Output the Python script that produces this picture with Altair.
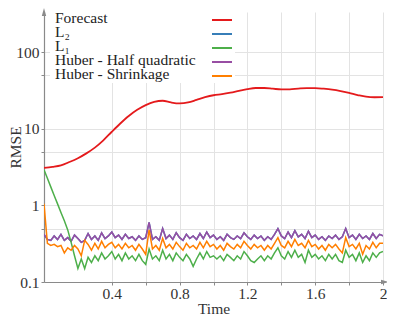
import altair as alt
import pandas as pd

# ---------------- data ----------------
TIME = [round(0.02 * i, 2) for i in range(101)]

FORECAST_TIME = [0.0, 0.05, 0.1, 0.15, 0.2, 0.25, 0.3, 0.35, 0.4, 0.45,
                 0.5, 0.55, 0.6, 0.65, 0.7, 0.75, 0.8, 0.85, 0.9, 0.95,
                 1.0, 1.05, 1.1, 1.15, 1.2, 1.25, 1.3, 1.35, 1.4, 1.45,
                 1.5, 1.55, 1.6, 1.65, 1.7, 1.75, 1.8, 1.85, 1.9, 1.95, 2.0]
FORECAST = [3.1, 3.2, 3.35, 3.7, 4.15, 4.8, 5.7, 7.1, 9.2, 11.8,
            14.8, 17.8, 20.5, 22.6, 23.4, 22.2, 21.6, 22.2, 24.0, 26.0,
            27.6, 28.5, 29.8, 31.5, 33.2, 34.3, 34.3, 33.6, 32.9, 33.0,
            33.7, 34.2, 34.2, 33.6, 32.7, 31.3, 29.6, 27.8, 26.4, 26.0, 26.1]

HUBER_HQ = [0.42, 0.36, 0.35, 0.40, 0.36, 0.42, 0.35, 0.38, 0.34, 0.41, 0.37,
            0.33, 0.35, 0.43, 0.36, 0.40, 0.35, 0.44, 0.37, 0.40, 0.45,
            0.38, 0.41, 0.36, 0.42, 0.37, 0.39, 0.35, 0.40, 0.36, 0.38,
            0.60, 0.36, 0.39, 0.35, 0.50, 0.37, 0.41, 0.36, 0.44, 0.38,
            0.35, 0.42, 0.37, 0.40, 0.36, 0.43, 0.37, 0.45, 0.38, 0.41,
            0.36, 0.39, 0.35, 0.42, 0.38, 0.36, 0.40, 0.37, 0.44, 0.39,
            0.36, 0.41, 0.37, 0.40, 0.35, 0.39, 0.36, 0.42, 0.50, 0.40,
            0.37, 0.45, 0.38, 0.47, 0.39, 0.42, 0.37, 0.46, 0.38, 0.41,
            0.36, 0.39, 0.35, 0.40, 0.37, 0.41, 0.36, 0.39, 0.50, 0.38,
            0.41, 0.36, 0.42, 0.37, 0.40, 0.36, 0.43, 0.37, 0.42, 0.40]

HUBER_SHRINK = [1.05, 0.32, 0.30, 0.31, 0.29, 0.30, 0.24, 0.28, 0.26, 0.30, 0.27,
                0.22, 0.35, 0.31, 0.26, 0.32, 0.27, 0.34, 0.28, 0.31, 0.33,
                0.28, 0.31, 0.27, 0.32, 0.28, 0.30, 0.26, 0.31, 0.27, 0.23,
                0.48, 0.27, 0.30, 0.26, 0.37, 0.28, 0.31, 0.27, 0.33, 0.29,
                0.26, 0.32, 0.28, 0.30, 0.27, 0.33, 0.28, 0.34, 0.29, 0.31,
                0.27, 0.30, 0.26, 0.32, 0.29, 0.27, 0.31, 0.28, 0.34, 0.30,
                0.27, 0.31, 0.28, 0.30, 0.26, 0.30, 0.27, 0.32, 0.38, 0.30,
                0.28, 0.34, 0.29, 0.36, 0.30, 0.32, 0.28, 0.35, 0.29, 0.31,
                0.27, 0.30, 0.26, 0.31, 0.28, 0.31, 0.27, 0.24, 0.38, 0.29,
                0.31, 0.27, 0.32, 0.23, 0.30, 0.27, 0.33, 0.28, 0.32, 0.32]

L1 = [2.93, 2.27, 1.75, 1.35, 1.05, 0.81, 0.63, 0.48, 0.33, 0.22, 0.15,
      0.20, 0.15, 0.21, 0.18, 0.22, 0.19, 0.24, 0.20, 0.22, 0.25,
      0.20, 0.23, 0.19, 0.24, 0.20, 0.22, 0.19, 0.23, 0.19, 0.17,
      0.27, 0.20, 0.22, 0.19, 0.26, 0.20, 0.23, 0.19, 0.24, 0.21,
      0.19, 0.23, 0.20, 0.16, 0.20, 0.24, 0.20, 0.25, 0.21, 0.22,
      0.20, 0.22, 0.19, 0.23, 0.21, 0.19, 0.22, 0.20, 0.25, 0.22,
      0.19, 0.18, 0.20, 0.22, 0.19, 0.22, 0.20, 0.24, 0.28, 0.22,
      0.20, 0.25, 0.21, 0.26, 0.21, 0.23, 0.18, 0.26, 0.21, 0.23,
      0.20, 0.22, 0.19, 0.23, 0.20, 0.23, 0.19, 0.18, 0.26, 0.21,
      0.23, 0.19, 0.24, 0.18, 0.22, 0.19, 0.24, 0.21, 0.24, 0.25]

# L2 is not visible in the reference: it lies underneath Huber - Half quadratic
L2 = list(HUBER_HQ)

SERIES = ["Forecast", "L\u2082", "L\u2081", "Huber - Half quadratic", "Huber - Shrinkage"]
COLORS = ["#e41a1c", "#377eb8", "#4daf4a", "#984ea3", "#ff7f00"]

X_GRID = [0.4, 0.6, 0.8, 1.0, 1.2, 1.4, 1.6, 1.8, 2.0]
Y_GRID = [0.1, 0.5, 1, 5, 10, 50, 100]

rows = []
for t, v in zip(FORECAST_TIME, FORECAST):
    rows.append({"t": t, "v": v, "series": SERIES[0]})
for name, vals in [(SERIES[1], L2), (SERIES[2], L1), (SERIES[3], HUBER_HQ), (SERIES[4], HUBER_SHRINK)]:
    for t, v in zip(TIME, vals):
        rows.append({"t": t, "v": v, "series": name})
df = pd.DataFrame(rows)
legend_df = pd.DataFrame({"series": SERIES})

FONT = "Liberation Serif"
FS = 15.5
W, H = 339, 270
AXIS_GRAY = "#8a8a8a"
color_scale = alt.Scale(domain=SERIES, range=COLORS)

x_enc = alt.X("t:Q", scale=alt.Scale(domain=[0, 2], nice=False, zero=False),
              axis=alt.Axis(title="Time", values=X_GRID, format="~g",
                            labelExpr="round(datum.value*10) % 4 == 0 ? datum.label : ''",
                            grid=True, gridColor="#e3e3e3", gridWidth=1,
                            domainColor=AXIS_GRAY, domainWidth=1.2,
                            tickColor=AXIS_GRAY, tickSize=3,
                            labelFont=FONT, labelFontSize=FS, labelColor="#333",
                            labelPadding=1, labelFlush=False,
                            titleFont=FONT, titleFontSize=FS, titleFontWeight="normal",
                            titleColor="#333", titlePadding=0))
y_enc = alt.Y("v:Q", scale=alt.Scale(type="log", domain=[0.1, 338], nice=False),
              axis=alt.Axis(title="RMSE", values=Y_GRID, format="~g",
                            labelExpr="indexof([0.1, 1, 10, 100], datum.value) >= 0 ? datum.label : ''",
                            grid=True, gridColor="#e3e3e3", gridWidth=1,
                            domainColor=AXIS_GRAY, domainWidth=1.2,
                            tickColor=AXIS_GRAY, tickSize=3,
                            labelFont=FONT, labelFontSize=FS, labelColor="#333",
                            labelPadding=2,
                            titleFont=FONT, titleFontSize=FS, titleFontWeight="normal",
                            titleColor="#333", titleX=-29, titleBaseline="middle"))
color_enc = alt.Color("series:N", scale=color_scale, legend=None)

draw_order = [SERIES[1], SERIES[3], SERIES[2], SERIES[4], SERIES[0]]
layers = []
for s in draw_order:
    mk = alt.Chart(df).transform_filter(alt.datum.series == s)
    if s == SERIES[0]:
        mk = mk.mark_line(strokeWidth=1.8, interpolate="monotone", clip=True)
    else:
        mk = mk.mark_line(strokeWidth=1.5, clip=True)
    layers.append(mk.encode(x=x_enc, y=y_enc, color=color_enc))

arrow_df = pd.DataFrame({"a": [0]})
arrow_up = alt.Chart(arrow_df).mark_point(shape="M0,-1L0.55,1L-0.55,1Z", filled=True, size=64,
                                           color=AXIS_GRAY, opacity=1).encode(
    x=alt.value(0), y=alt.value(0))
arrow_right = alt.Chart(arrow_df).mark_point(shape="M1,0L-1,-0.55L-1,0.55Z", filled=True, size=64,
                                              color=AXIS_GRAY, opacity=1).encode(
    x=alt.value(W + 2), y=alt.value(H))

main = alt.layer(*layers, arrow_up, arrow_right)

# ---- legend (labels on the left, line samples on the right) ----
leg_y = alt.Y("series:N", scale=alt.Scale(type="point", domain=SERIES, range=[8, 64], padding=0),
              axis=None)
leg_bg = alt.Chart(arrow_df).mark_rect(fill="white", stroke=None).encode(
    x=alt.value(6), x2=alt.value(191), y=alt.value(-4), y2=alt.value(71))
leg_lines = alt.Chart(legend_df).mark_rule(strokeWidth=2).encode(
    x=alt.value(168), x2=alt.value(188), y=leg_y, color=color_enc)
leg_text = alt.Chart(legend_df).mark_text(align="left", baseline="middle", dy=-2,
                                          font=FONT, fontSize=FS, color="#222").encode(
    x=alt.value(11), y=leg_y, text="series:N")
legend_layer = alt.layer(leg_bg, leg_lines, leg_text)

chart = alt.layer(main, legend_layer).resolve_scale(y="independent").properties(
    width=W, height=H,
    autosize=alt.AutoSizeParams(type="none"),
    padding={"left": 36, "top": 4, "right": 4, "bottom": 36},
).configure_view(stroke=None)

chart.save("out.html", embed_options={"renderer": "svg", "actions": False})
